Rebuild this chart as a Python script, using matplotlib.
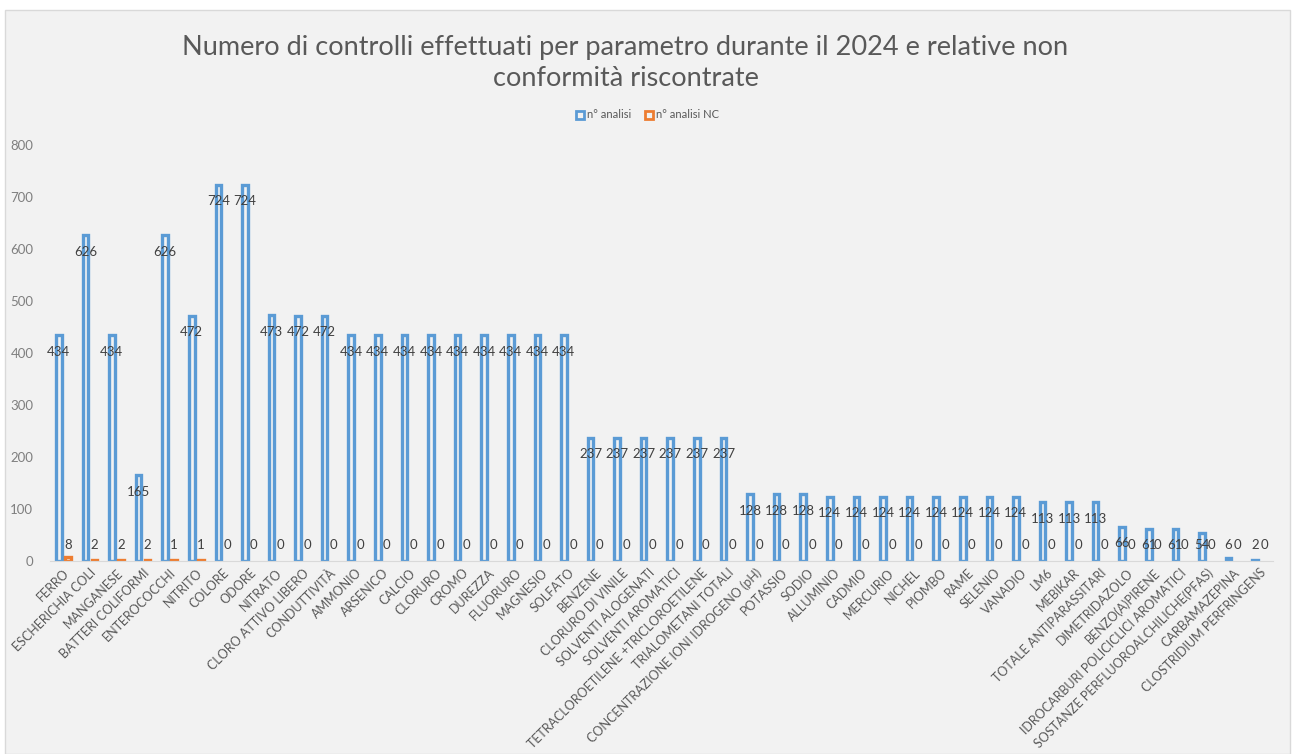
import numpy as np
import matplotlib
matplotlib.use('Agg')
import matplotlib.pyplot as plt
from matplotlib.patches import Patch, Rectangle

plt.rcParams['font.family'] = ['Lato', 'DejaVu Sans']

parametri = ['FERRO', 'ESCHERICHIA COLI', 'MANGANESE', 'BATTERI COLIFORMI', 'ENTEROCOCCHI',
             'NITRITO', 'COLORE', 'ODORE', 'NITRATO', 'CLORO ATTIVO LIBERO', 'CONDUTTIVITÀ',
             'AMMONIO', 'ARSENICO', 'CALCIO', 'CLORURO', 'CROMO', 'DUREZZA', 'FLUORURO',
             'MAGNESIO', 'SOLFATO', 'BENZENE', 'CLORURO DI VINILE', 'SOLVENTI ALOGENATI',
             'SOLVENTI AROMATICI', 'TETRACLOROETILENE +TRICLOROETILENE', 'TRIALOMETANI TOTALI',
             'CONCENTRAZIONE IONI IDROGENO (pH)', 'POTASSIO', 'SODIO', 'ALLUMINIO', 'CADMIO',
             'MERCURIO', 'NICHEL', 'PIOMBO', 'RAME', 'SELENIO', 'VANADIO', 'LM6', 'MEBIKAR',
             'TOTALE ANTIPARASSITARI', 'DIMETRIDAZOLO', 'BENZO(A)PIRENE',
             'IDROCARBURI POLICICLICI AROMATICI', 'SOSTANZE PERFLUOROALCHILICHE(PFAS)',
             'CARBAMAZEPINA', 'CLOSTRIDIUM PERFRINGENS']

n_analisi = [434, 626, 434, 165, 626, 472, 724, 724, 473, 472, 472,
             434, 434, 434, 434, 434, 434, 434, 434, 434,
             237, 237, 237, 237, 237, 237,
             128, 128, 128,
             124, 124, 124, 124, 124, 124, 124, 124,
             113, 113, 113, 66, 61, 61, 54, 6, 2]

n_analisi_nc = [8, 2, 2, 2, 1, 1] + [0] * 40

blu = '#5b9bd5'
arancio = '#ed7d31'
sfondo = '#f2f2f2'

fig = plt.figure(figsize=(12.95, 7.54), dpi=100)
fig.patch.set_facecolor('white')
fig.patches.append(Rectangle((5 / 1295, 0), 1285 / 1295, 744 / 754, transform=fig.transFigure,
                             facecolor=sfondo, edgecolor='#d9d9d9', lw=1, zorder=-10))

ax = fig.add_axes([50 / 1295, 1 - 561 / 754, 1223 / 1295, 416 / 754])
ax.set_facecolor(sfondo)

x = np.arange(len(parametri))
off = 0.17
w = 0.21
ax.bar(x - off, n_analisi, w, facecolor=sfondo, edgecolor=blu,
       linewidth=[2.4 if v > 0 else 0 for v in n_analisi])
ax.bar(x + off, n_analisi_nc, w, facecolor=sfondo, edgecolor=arancio,
       linewidth=[2.4 if v > 0 else 0 for v in n_analisi_nc])

for xi, v in zip(x, n_analisi):
    ax.text(xi - off, max(v - 32, 30), str(v), ha='center', va='center',
            fontsize=9.5, color='#404040')
for xi, v in zip(x, n_analisi_nc):
    ax.text(xi + off, max(v - 32, 30), str(v), ha='center', va='center',
            fontsize=9.5, color='#404040')

ax.set_xlim(-0.5, len(parametri) - 0.5)
ax.set_ylim(0, 800)
ax.set_yticks(range(0, 801, 100))
ax.set_xticks(x)
ax.set_xticklabels(parametri, rotation=45, ha='right', rotation_mode='anchor',
                   fontsize=9, color='#595959')
ax.tick_params(axis='y', length=0, labelsize=9.5, labelcolor='#7f7f7f', pad=12)
ax.tick_params(axis='x', length=0, pad=4)
for s in ['top', 'right', 'left']:
    ax.spines[s].set_visible(False)
ax.spines['bottom'].set_color('#d9d9d9')

fig.text(0.483, 1 - 47 / 754, 'Numero di controlli effettuati per parametro durante il 2024 e relative non',
         ha='center', va='center', fontsize=19.5, color='#595959')
fig.text(0.483, 1 - 78 / 754, 'conformità riscontrate',
         ha='center', va='center', fontsize=19.5, color='#595959')

handles = [Patch(facecolor=sfondo, edgecolor=blu, linewidth=2),
           Patch(facecolor=sfondo, edgecolor=arancio, linewidth=2)]
fig.legend(handles, ['n° analisi', 'n° analisi NC'], loc='center', bbox_to_anchor=(0.5, 1 - 115 / 754),
           ncol=2, frameon=False, fontsize=8, labelcolor='#595959', handlelength=0.7,
           handleheight=0.7, handletextpad=0.3, columnspacing=1.2)

fig.savefig('out.png', dpi=100, facecolor=fig.get_facecolor())
